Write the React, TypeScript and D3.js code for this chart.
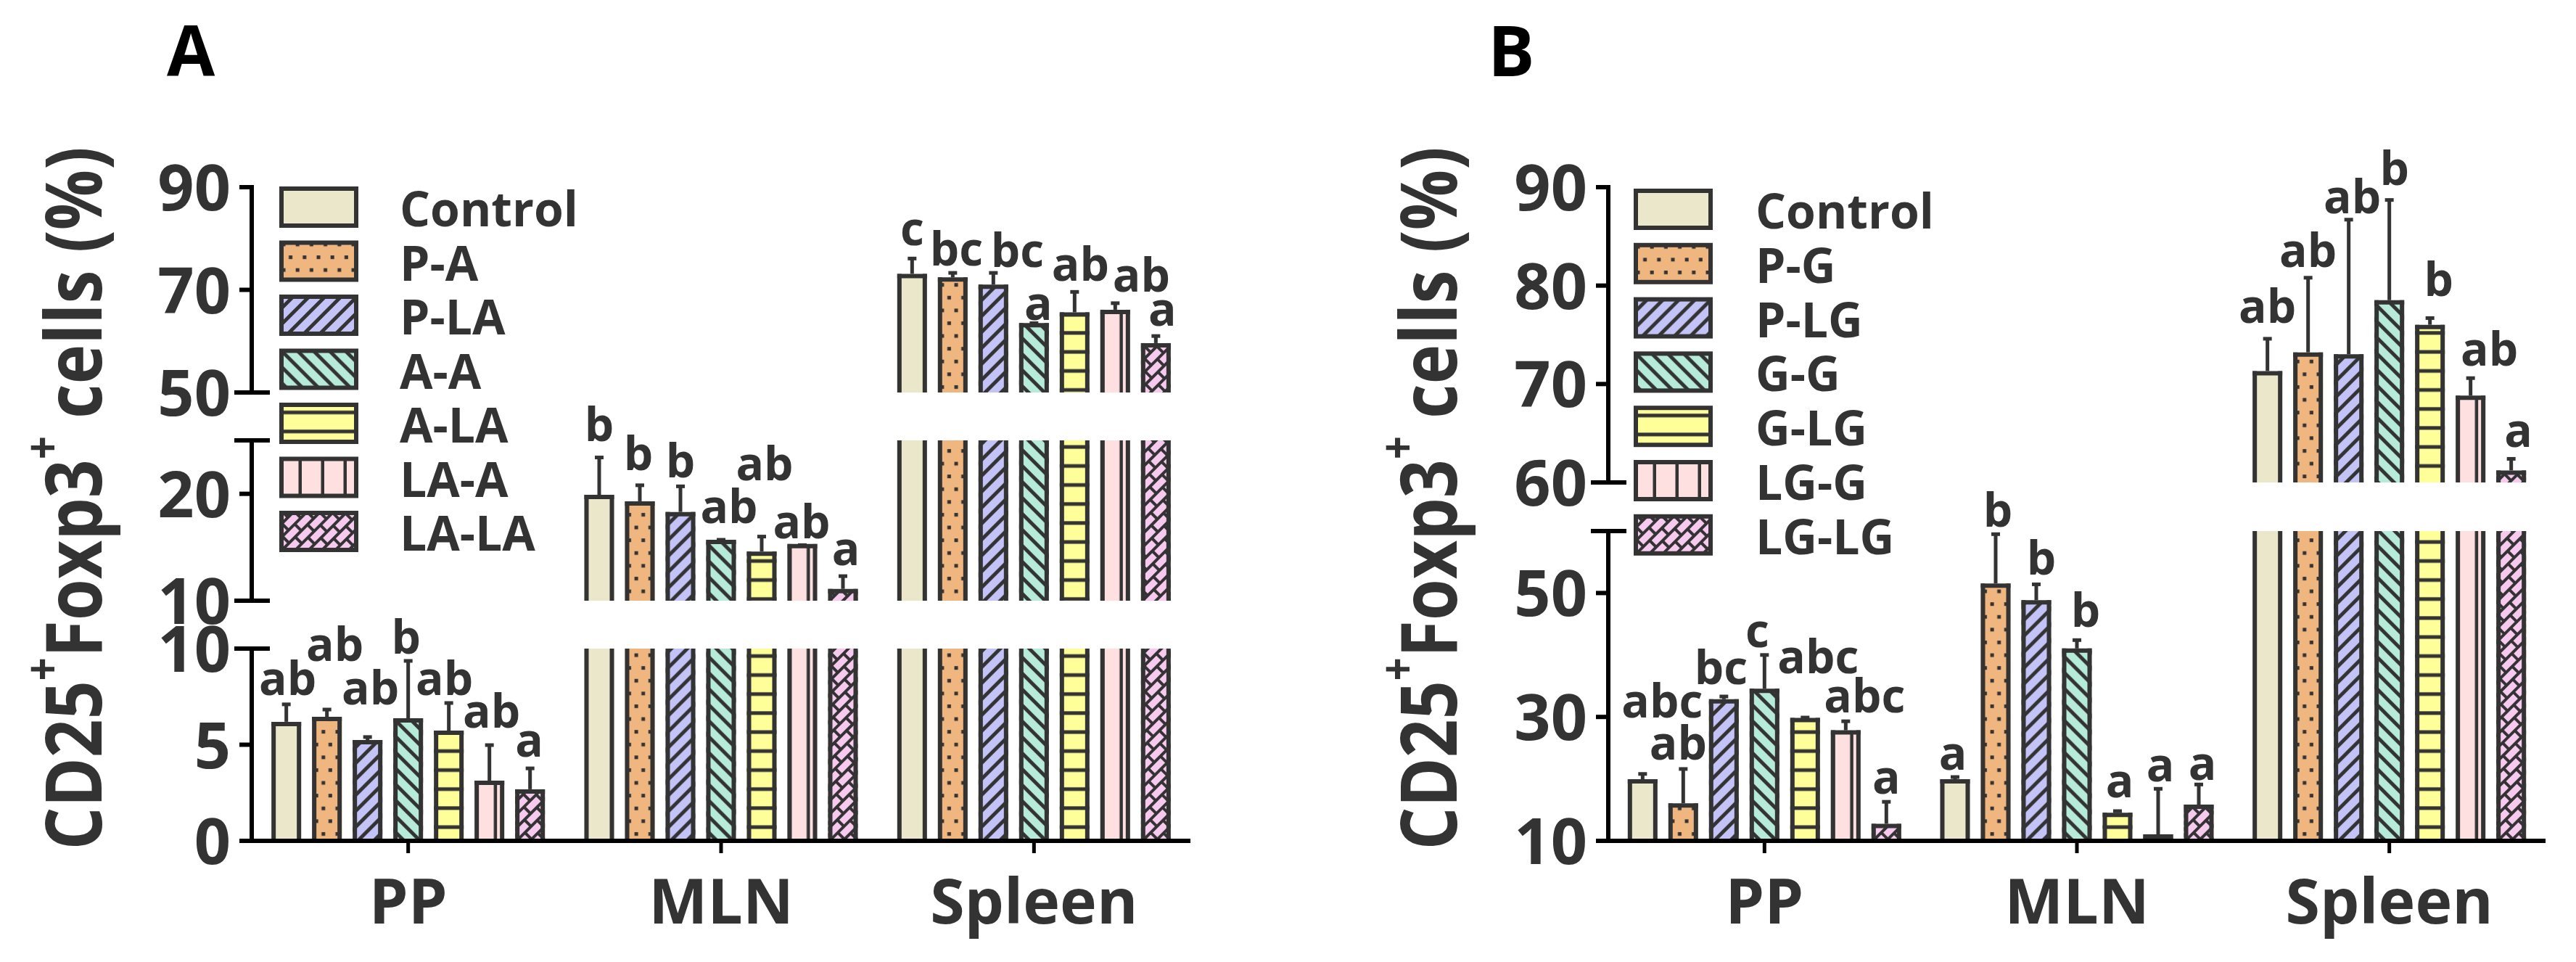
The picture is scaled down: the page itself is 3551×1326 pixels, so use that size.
import React from "react";
import * as d3 from "d3";

// ---------- data ----------
const groups = ["PP", "MLN", "Spleen"];
const seriesA = ["Control", "P-A", "P-LA", "A-A", "A-LA", "LA-A", "LA-LA"];
const seriesB = ["Control", "P-G", "P-LG", "G-G", "G-LG", "LG-G", "LG-LG"];
const fillColors = ["#EAE7CA", "#F0B67F", "#C3C3F7", "#B5EBD8", "#FFFF99", "#FFE0E1", "#F7C9EE"];

// Panel A
const aMeanPP = [6.08, 6.34, 5.13, 6.26, 5.62, 3.02, 2.57];
const aMeanMLN = [19.7, 19.1, 18.1, 15.5, 14.4, 15.1, 10.9];
const aMeanSpleen = [72.7, 72.0, 70.6, 63.1, 65.2, 65.7, 59.2];
const aSdPP = [1.02, 0.49, 0.27, 3.1, 1.55, 1.96, 1.2];
const aSdMLN = [3.7, 1.7, 2.6, 0.2, 1.6, 0.1, 1.4];
const aSdSpleen = [3.4, 1.3, 2.7, 0.4, 4.4, 1.7, 1.8];
const aLetPP = ["ab", "ab", "ab", "b", "ab", "ab", "a"];
const aLetMLN = ["b", "b", "b", "ab", "ab", "ab", "a"];
const aLetSpleen = ["c", "bc", "bc", "a", "ab", "ab", "a"];

// Panel B
const bMeanPP = [19.6, 15.7, 32.5, 34.2, 29.5, 27.5, 12.4];
const bMeanMLN = [19.6, 51.2, 48.5, 40.7, 14.2, 10.7, 15.5];
const bMeanSpleen = [71.1, 73.0, 72.8, 78.3, 75.8, 68.6, 61.0];
const bSdPP = [1.2, 5.9, 0.8, 5.8, 0.4, 1.8, 3.9];
const bSdMLN = [0.7, 8.3, 2.9, 1.7, 0.6, 7.7, 3.6];
const bSdSpleen = [3.5, 7.8, 13.9, 10.4, 0.9, 2.0, 1.4];
const bLetPP = ["abc", "ab", "bc", "c", "abc", "abc", "a"];
const bLetMLN = ["a", "b", "b", "b", "a", "a", "a"];
const bLetSpleen = ["ab", "ab", "ab", "b", "b", "ab", "a"];

// broken y axes
const aSegments = [[0, 10], [10, 25], [50, 90]];
const aTicks = [[0, 5, 10], [10, 20], [50, 70, 90]];
const bSegments = [[10, 60], [60, 90]];
const bTicks = [[10, 30, 50], [60, 70, 80, 90]];

// ---------- layout (pixels) ----------
const aSegPx = [[1159, 894], [828, 607], [541, 258]];
const bSegPx = [[1159, 732], [665, 258]];
const aLift = [[13, 67, 45, 10, 11, 24, 16], [23, 21, 12, 23, 78, 9, 15], [18, 10, 8, 4, 15, 16, 14]];
const aDx = [[2, 11, 4, -3, -6, 3, -1], [0, -2, 0, 11, 4, -1, 4], [0, 5, 33, 6, 8, 36, 9]];
const bLift = [[78, 13, 17, 11, 61, 12, 11], [10, 10, 13, 18, 19, 10, 6], [22, 15, 9, 21, 30, 17, 16]];
const bDx = [[27, -7, -4, -10, 18, 26, 0], [-3, 3, 7, 12, 3, 3, 5], [0, 0, 5, 7, 12, 26, 10]];

const layoutA = { axisX: 347, axisLen: 1294, baseY: 1159, titleX: 140, titleY: 687, letter: "A", letterX: 230, letterY: 105, legendX: 385, legendY: 257, legendPitch: 74.5, legendTextX: 551 };
const layoutB = { axisX: 2217, axisLen: 1292, baseY: 1159, titleX: 2008, titleY: 687, letter: "B", letterX: 2051, letterY: 105, legendX: 2252, legendY: 260, legendPitch: 74.8, legendTextX: 2420 };

const FONT = "'Open Sans', 'Noto Sans', sans-serif";
const INK = "#333333";

function Patterns() {
  const s = 22;
  const slash = `M0,${s} L${s},0 M${-s / 2},${s / 2} L${s / 2},${-s / 2} M${s / 2},${s * 1.5} L${s * 1.5},${s / 2}`;
  const back = `M0,0 L${s},${s} M${-s / 2},${s / 2} L${s / 2},${s * 1.5} M${s / 2},${-s / 2} L${s * 1.5},${s / 2}`;
  return (
    <defs>
      <pattern id="pat0" patternUnits="userSpaceOnUse" width={10} height={10}>
        <rect width={10} height={10} fill={fillColors[0]} />
      </pattern>
      <pattern id="pat1" patternUnits="userSpaceOnUse" width={19.2} height={35.2}>
        <rect width={19.2} height={35.2} fill={fillColors[1]} />
        <rect x={3.5} y={3} width={5} height={5} fill={INK} />
        <rect x={13.1} y={20.6} width={5} height={5} fill={INK} />
      </pattern>
      <pattern id="pat2" patternUnits="userSpaceOnUse" width={s} height={s}>
        <rect width={s} height={s} fill={fillColors[2]} />
        <path d={slash} stroke={INK} strokeWidth={5} />
      </pattern>
      <pattern id="pat3" patternUnits="userSpaceOnUse" width={s} height={s}>
        <rect width={s} height={s} fill={fillColors[3]} />
        <path d={back} stroke={INK} strokeWidth={5} />
      </pattern>
      <pattern id="pat4" patternUnits="userSpaceOnUse" width={10} height={26.2}>
        <rect width={10} height={26.2} fill={fillColors[4]} />
        <rect x={0} y={11} width={10} height={5} fill={INK} />
      </pattern>
      <pattern id="pat5" patternUnits="userSpaceOnUse" width={31} height={10}>
        <rect width={31} height={10} fill={fillColors[5]} />
        <rect x={26.5} y={0} width={5} height={10} fill={INK} />
      </pattern>
      <pattern id="pat6" patternUnits="userSpaceOnUse" width={24} height={26} patternTransform="rotate(-45)">
        <rect width={24} height={26} fill={fillColors[6]} />
        <path d="M0,2 H24 M0,15 H24 M2,2 V15 M14,15 V28" stroke={INK} strokeWidth={4} />
      </pattern>
    </defs>
  );
}

function Panel({ series, means, sds, letters, lifts, dxs, segments, segPx, ticks, L }) {
  const scales = segments.map((d, i) => d3.scaleLinear().domain(d).range(segPx[i]));
  const yOf = (v) => {
    let i = segments.findIndex(([, hi]) => v <= hi);
    if (i < 0) i = segments.length - 1;
    return scales[i](Math.max(v, segments[i][0]));
  };
  const x0 = d3.scaleBand().domain(groups).range([L.axisX, L.axisX + L.axisLen]).paddingInner(0).paddingOuter(0);
  const x1 = d3.scaleBand().domain(series).range([-188.5, 188.5]).paddingInner(15 / 56).paddingOuter(0);
  const bw = x1.bandwidth();
  const n = segments.length;

  const bars = [];
  const errs = [];
  const labels = [];
  groups.forEach((g, gi) => {
    const gc = x0(g) + x0.bandwidth() / 2;
    series.forEach((s, si) => {
      const v = means[gi][si];
      const sd = sds[gi][si];
      const left = gc + x1(s);
      const cx = left + bw / 2;
      segments.forEach(([lo, hi], i) => {
        if (v <= lo) return;
        const top = Math.min(v, hi);
        const yT = scales[i](top);
        const yB = scales[i](lo);
        const capped = v <= hi;
        bars.push(
          <g key={`b-${gi}-${si}-${i}`} transform={`translate(${left},0)`}>
            <rect x={0} y={yT} width={bw} height={Math.max(0, yB - yT)} fill={`url(#pat${si})`} />
            <line x1={3} x2={3} y1={capped ? yT - 3 : yT} y2={yB} stroke={INK} strokeWidth={6} />
            <line x1={bw - 3} x2={bw - 3} y1={capped ? yT - 3 : yT} y2={yB} stroke={INK} strokeWidth={6} />
            {capped && <line x1={0} x2={bw} y1={yT} y2={yT} stroke={INK} strokeWidth={6} />}
          </g>
        );
      });
      const yv = yOf(v);
      const ye = yOf(v + sd);
      errs.push(
        <g key={`e-${gi}-${si}`}>
          <line x1={cx} x2={cx} y1={yv - 3} y2={ye} stroke={INK} strokeWidth={5} />
          <line x1={cx - 6} x2={cx + 6} y1={ye} y2={ye} stroke={INK} strokeWidth={5} />
        </g>
      );
      labels.push(
        <text key={`l-${gi}-${si}`} x={cx + dxs[gi][si]} y={ye - lifts[gi][si]} textAnchor="middle"
          fontSize={64} fontWeight={700} fontFamily={FONT} fill={INK}>{letters[gi][si]}</text>
      );
    });
  });

  const axis = [];
  segments.forEach(([lo, hi], i) => {
    const [pb, pt] = segPx[i];
    axis.push(<line key={`ax-${i}`} x1={L.axisX} x2={L.axisX} y1={i === n - 1 ? pt - 3 : pt} y2={pb} stroke="#000" strokeWidth={6} />);
    const breaks = [];
    if (i > 0) breaks.push(lo);
    if (i < n - 1) breaks.push(hi);
    breaks.forEach((bv) => {
      const y = scales[i](bv);
      axis.push(<line key={`br-${i}-${bv}`} x1={L.axisX - 24} x2={L.axisX + 25} y1={y} y2={y} stroke="#000" strokeWidth={6} />);
    });
    ticks[i].forEach((t) => {
      const y = scales[i](t);
      const isBreak = breaks.includes(t);
      if (!isBreak) axis.push(<line key={`tk-${i}-${t}`} x1={L.axisX - 17} x2={L.axisX} y1={y} y2={y} stroke="#000" strokeWidth={6} />);
      axis.push(
        <text key={`tl-${i}-${t}`} x={L.axisX - 29} y={y + 32} textAnchor="end" fontSize={88} fontWeight={700}
          fontFamily={FONT} fill={INK}>{t}</text>
      );
    });
  });

  return (
    <g>
      <text x={L.letterX} y={L.letterY} fontSize={96} fontWeight={700} fontFamily={FONT} fill="#000">{L.letter}</text>
      <text transform={`translate(${L.titleX},${L.titleY}) rotate(-90)`} textAnchor="middle" fontSize={108}
        fontWeight={700} fontFamily={FONT} fill={INK} textLength={969} lengthAdjust="spacingAndGlyphs">
        CD25<tspan fontSize={66} dy={-58}>+</tspan><tspan dy={58}>Foxp3</tspan><tspan fontSize={66} dy={-58}>+</tspan><tspan dy={58}>{" cells (%)"}</tspan>
      </text>
      {bars}
      {errs}
      {labels}
      {axis}
      <line x1={L.axisX - 17} x2={L.axisX + L.axisLen} y1={L.baseY} y2={L.baseY} stroke="#000" strokeWidth={6} />
      {groups.map((g) => {
        const gc = x0(g) + x0.bandwidth() / 2;
        return (
          <g key={`cat-${g}`}>
            <line x1={gc} x2={gc} y1={L.baseY} y2={L.baseY + 17} stroke="#000" strokeWidth={5} />
            <text x={gc} y={1273} textAnchor="middle" fontSize={86} fontWeight={700} fontFamily={FONT} fill={INK}>{g}</text>
          </g>
        );
      })}
      {series.map((s, si) => {
        const ry = L.legendY + si * L.legendPitch;
        return (
          <g key={`lg-${s}`}>
            <g transform={`translate(${L.legendX},${ry})`}>
              <rect x={3} y={3} width={103} height={51} fill={`url(#pat${si})`} stroke={INK} strokeWidth={6} />
            </g>
            <text x={L.legendTextX} y={ry + 55} fontSize={66} fontWeight={700} fontFamily={FONT} fill={INK}>{s}</text>
          </g>
        );
      })}
    </g>
  );
}

export default function App() {
  return (
    <svg width={3551} height={1326} viewBox="0 0 3551 1326"
      style={{ position: "absolute", left: 0, top: 0, display: "block", background: "#fff" }}>
      <Patterns />
      <rect width={3551} height={1326} fill="#fff" />
      <Panel series={seriesA} means={[aMeanPP, aMeanMLN, aMeanSpleen]} sds={[aSdPP, aSdMLN, aSdSpleen]}
        letters={[aLetPP, aLetMLN, aLetSpleen]} lifts={aLift} dxs={aDx}
        segments={aSegments} segPx={aSegPx} ticks={aTicks} L={layoutA} />
      <Panel series={seriesB} means={[bMeanPP, bMeanMLN, bMeanSpleen]} sds={[bSdPP, bSdMLN, bSdSpleen]}
        letters={[bLetPP, bLetMLN, bLetSpleen]} lifts={bLift} dxs={bDx}
        segments={bSegments} segPx={bSegPx} ticks={bTicks} L={layoutB} />
    </svg>
  );
}
